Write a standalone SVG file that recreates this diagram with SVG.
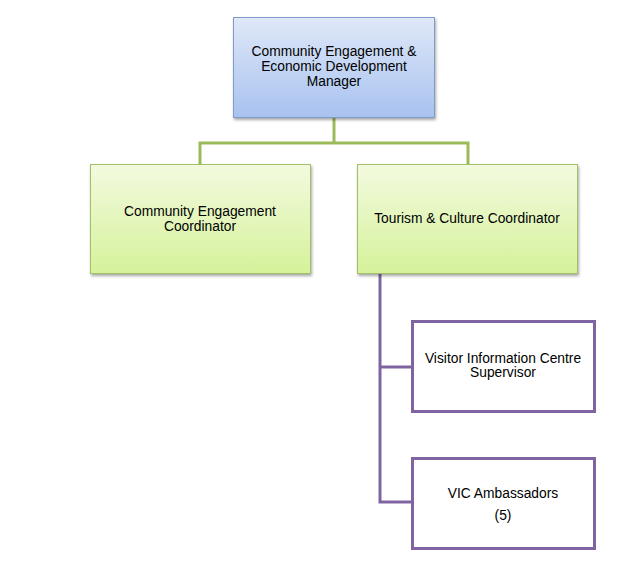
<svg xmlns="http://www.w3.org/2000/svg" width="636" height="566" viewBox="0 0 636 566">
<defs>
<linearGradient id="gb" x1="0" y1="0" x2="0" y2="1">
<stop offset="0" stop-color="#dfe8f8"/>
<stop offset="1" stop-color="#a8c2ef"/>
</linearGradient>
<linearGradient id="gg" x1="0" y1="0" x2="0" y2="1">
<stop offset="0" stop-color="#f3fadf"/>
<stop offset="1" stop-color="#d5f29a"/>
</linearGradient>
<filter id="sh" x="-10%" y="-10%" width="120%" height="130%">
<feGaussianBlur in="SourceAlpha" stdDeviation="1.5"/>
<feOffset dx="1" dy="2" result="b"/>
<feComponentTransfer><feFuncA type="linear" slope="0.35"/></feComponentTransfer>
<feMerge><feMergeNode/><feMergeNode in="SourceGraphic"/></feMerge>
</filter>
</defs>
<style>
text{font-family:"Liberation Sans",Arial,sans-serif;font-size:13.8px;fill:#000;text-anchor:middle}
.blue{fill:url(#gb);stroke:#7f9dc8;stroke-width:1}
.green{fill:url(#gg);stroke:#a3bf6a;stroke-width:1}
.purple{fill:#fff;stroke:#8064a2;stroke-width:3}
.cg{fill:none;stroke:#9bbb59;stroke-width:3}
.cp{fill:none;stroke:#8064a2;stroke-width:3}
</style>
<rect width="636" height="566" fill="#fff"/>
<g id="connectors">
<path class="cg" d="M334 117V143M200 164V143H468V164"/>
<path class="cp" d="M380 273V502H412M380 367H412"/>
</g>
<g id="manager">
<rect class="blue" x="233.5" y="17.5" width="201" height="100" filter="url(#sh)"/>
<text x="334" y="56">Community Engagement &amp;</text>
<text x="334" y="71">Economic Development</text>
<text x="334" y="86">Manager</text>
</g>
<g id="ce-coordinator">
<rect class="green" x="90.5" y="164.5" width="220" height="109" filter="url(#sh)"/>
<text x="200" y="216">Community Engagement</text>
<text x="200" y="231">Coordinator</text>
</g>
<g id="tc-coordinator">
<rect class="green" x="357.5" y="164.5" width="220" height="109" filter="url(#sh)"/>
<text x="467" y="223">Tourism &amp; Culture Coordinator</text>
</g>
<g id="vic-supervisor">
<rect class="purple" x="412.5" y="321.5" width="182" height="90"/>
<text x="503" y="363">Visitor Information Centre</text>
<text x="503" y="377">Supervisor</text>
</g>
<g id="vic-ambassadors">
<rect class="purple" x="412.5" y="458.5" width="182" height="90"/>
<text x="503" y="498">VIC Ambassadors</text>
<text x="503" y="520">(5)</text>
</g>
</svg>
